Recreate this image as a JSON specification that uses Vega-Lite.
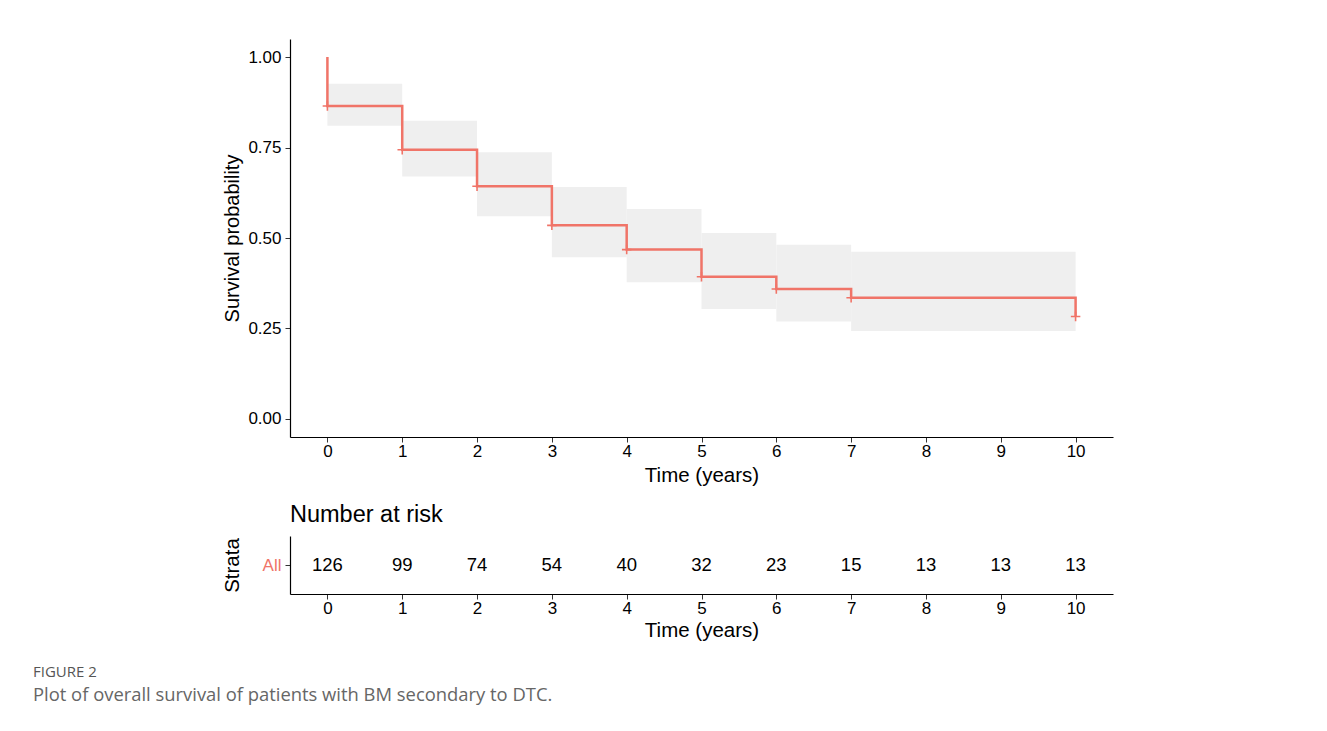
{
  "$schema": "https://vega.github.io/schema/vega-lite/v6.json",
  "background": "white",
  "autosize": {"type": "pad"},
  "padding": {"left": 33, "top": 39, "right": 5, "bottom": 5},
  "config": {
    "view": {"stroke": null},
    "font": "Liberation Sans",
    "axis": {"domainColor": "black", "domainWidth": 1.2, "tickColor": "#333333", "labelColor": "black", "titleColor": "black", "grid": false, "labelFont": "Liberation Sans", "titleFont": "Liberation Sans", "titleFontWeight": "normal"}
  },
  "title": {
    "text": "FIGURE 2",
    "subtitle": "Plot of overall survival of patients with BM secondary to DTC.",
    "orient": "bottom",
    "anchor": "start",
    "dx": -189,
    "offset": 24,
    "font": "Open Sans",
    "fontSize": 15,
    "fontWeight": 500,
    "color": "#555555",
    "subtitleFont": "Open Sans",
    "subtitleFontSize": 18.4,
    "subtitleColor": "#666666",
    "subtitlePadding": 6
  },
  "datasets": {
    "bands": [
      {"start": 0, "end": 1, "lower": 0.810, "upper": 0.926},
      {"start": 1, "end": 2, "lower": 0.670, "upper": 0.824},
      {"start": 2, "end": 3, "lower": 0.560, "upper": 0.737},
      {"start": 3, "end": 4, "lower": 0.447, "upper": 0.641},
      {"start": 4, "end": 5, "lower": 0.378, "upper": 0.580},
      {"start": 5, "end": 6, "lower": 0.304, "upper": 0.514},
      {"start": 6, "end": 7, "lower": 0.269, "upper": 0.481},
      {"start": 7, "end": 10, "lower": 0.243, "upper": 0.462}
    ],
    "steps": [
      {"i": 0, "time": 0, "surv": 1.0},
      {"i": 1, "time": 0, "surv": 0.865},
      {"i": 2, "time": 1, "surv": 0.744},
      {"i": 3, "time": 2, "surv": 0.643},
      {"i": 4, "time": 3, "surv": 0.535},
      {"i": 5, "time": 4, "surv": 0.468},
      {"i": 6, "time": 5, "surv": 0.393},
      {"i": 7, "time": 6, "surv": 0.359},
      {"i": 8, "time": 7, "surv": 0.335},
      {"i": 9, "time": 10, "surv": 0.283}
    ],
    "censor": [
      {"time": 0, "surv": 0.865},
      {"time": 1, "surv": 0.744},
      {"time": 2, "surv": 0.643},
      {"time": 3, "surv": 0.535},
      {"time": 4, "surv": 0.468},
      {"time": 5, "surv": 0.393},
      {"time": 6, "surv": 0.359},
      {"time": 7, "surv": 0.335},
      {"time": 10, "surv": 0.283}
    ],
    "risk": [
      {"time": 0, "n": 126, "strata": "All"},
      {"time": 1, "n": 99, "strata": "All"},
      {"time": 2, "n": 74, "strata": "All"},
      {"time": 3, "n": 54, "strata": "All"},
      {"time": 4, "n": 40, "strata": "All"},
      {"time": 5, "n": 32, "strata": "All"},
      {"time": 6, "n": 23, "strata": "All"},
      {"time": 7, "n": 15, "strata": "All"},
      {"time": 8, "n": 13, "strata": "All"},
      {"time": 9, "n": 13, "strata": "All"},
      {"time": 10, "n": 13, "strata": "All"}
    ]
  },
  "spacing": 16,
  "vconcat": [
    {
      "width": 823,
      "height": 398,
      "layer": [
        {
          "data": {"name": "bands"},
          "mark": {"type": "rect", "color": "#EFEFEF"},
          "encoding": {
            "x": {"field": "start", "type": "quantitative", "scale": {"domain": [-0.5, 10.5], "nice": false, "zero": false},
              "axis": {"values": [0, 1, 2, 3, 4, 5, 6, 7, 8, 9, 10], "format": "d", "title": "Time (years)", "labelFontSize": 17, "titleFontSize": 20.5, "tickSize": 5, "labelPadding": 1, "titlePadding": 6}},
            "x2": {"field": "end"},
            "y": {"field": "lower", "type": "quantitative", "scale": {"domain": [-0.05, 1.05], "nice": false, "zero": false},
              "axis": {"values": [0, 0.25, 0.5, 0.75, 1], "format": ".2f", "title": "Survival probability", "labelFontSize": 17, "titleFontSize": 20, "tickSize": 5, "labelPadding": 4, "titlePadding": 8, "minExtent": 40, "maxExtent": 40}},
            "y2": {"field": "upper"}
          }
        },
        {
          "data": {"name": "steps"},
          "mark": {"type": "line", "interpolate": "step-after", "color": "#F07468", "strokeWidth": 2.5},
          "encoding": {
            "x": {"field": "time", "type": "quantitative"},
            "y": {"field": "surv", "type": "quantitative"},
            "order": {"field": "i", "type": "quantitative"}
          }
        },
        {
          "data": {"name": "censor"},
          "mark": {"type": "point", "shape": "M-1,0H1M0,-1V1", "size": 90, "strokeWidth": 1.6, "color": "#F07468", "filled": false, "opacity": 1},
          "encoding": {
            "x": {"field": "time", "type": "quantitative"},
            "y": {"field": "surv", "type": "quantitative"}
          }
        }
      ]
    },
    {
      "width": 823,
      "height": 58,
      "title": {"text": "Number at risk", "anchor": "start", "frame": "group", "fontSize": 23.5, "fontWeight": "normal", "font": "Liberation Sans", "color": "black", "offset": 10},
      "data": {"name": "risk"},
      "mark": {"type": "text", "fontSize": 18.5, "color": "black", "font": "Liberation Sans"},
      "encoding": {
        "x": {"field": "time", "type": "quantitative", "scale": {"domain": [-0.5, 10.5], "nice": false, "zero": false},
          "axis": {"values": [0, 1, 2, 3, 4, 5, 6, 7, 8, 9, 10], "format": "d", "title": "Time (years)", "labelFontSize": 17, "titleFontSize": 20.5, "tickSize": 5, "labelPadding": 1, "titlePadding": 4}},
        "y": {"field": "strata", "type": "nominal",
          "axis": {"title": "Strata", "labelColor": "#F07468", "labelFontSize": 17, "titleFontSize": 20.5, "tickSize": 5, "labelPadding": 4, "titlePadding": 7.5, "minExtent": 40, "maxExtent": 40}},
        "text": {"field": "n", "type": "quantitative"}
      }
    }
  ]
}
